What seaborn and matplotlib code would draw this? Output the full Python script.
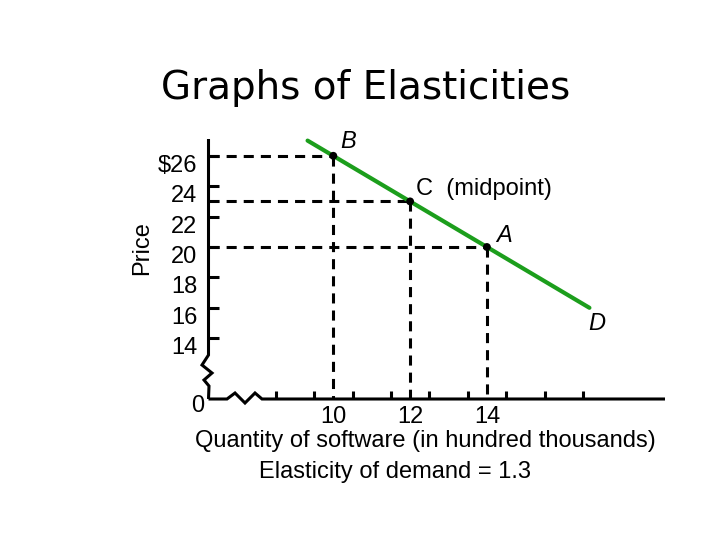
import matplotlib
matplotlib.use("Agg")
import matplotlib.pyplot as plt
import matplotlib.transforms as mtransforms
import seaborn as sns

# ---------------- data ----------------
demand_quantity = [9.33, 16.67]
demand_price = [27.0, 16.0]
point_names = ["B", "C", "A"]
point_quantity = [10, 12, 14]
point_price = [26, 23, 20]
price_ticks = [14, 16, 18, 20, 22, 24, 26]
price_tick_labels = ["14", "16", "18", "20", "22", "24", "$26"]
quantity_ticks = [10, 12, 14]
quantity_tick_labels = ["10", "12", "14"]
quantity_minor_ticks = [8.5, 9.5, 10.5, 11.5, 12.5, 13.5, 14.5, 15.5, 16.5]

title = "Graphs of Elasticities"
x_title = "Quantity of software (in hundred thousands)"
subtitle = "Elasticity of demand = 1.3"
y_title = "Price"

# ---------------- style ----------------
sns.set_style("white")
plt.rcParams["font.family"] = ["Liberation Sans", "DejaVu Sans"]
plt.rcParams["text.color"] = "black"
plt.rcParams["axes.labelcolor"] = "black"
plt.rcParams["xtick.color"] = "black"
plt.rcParams["ytick.color"] = "black"

FS = 17
W, H, DPI = 720, 540, 100
fig = plt.figure(figsize=(W / DPI, H / DPI), dpi=DPI)
fig.patch.set_facecolor("white")

XLIM = (6.75, 18.7)
YLIM = (10.0, 28.0)
PX_X, PX_Y = 38.4, 15.2
left_px, bottom_px = 208.5, 399
right_px = left_px + (XLIM[1] - XLIM[0]) * PX_X
top_px = bottom_px - (YLIM[1] - YLIM[0]) * PX_Y
ax = fig.add_axes([left_px / W, 1 - bottom_px / H,
                   (right_px - left_px) / W, (bottom_px - top_px) / H])
ax.set_xlim(XLIM)
ax.set_ylim(YLIM)
ax.set_facecolor("white")
for s in ax.spines.values():
    s.set_visible(False)


def px(xp, yp):
    """pixel (from top-left) -> data coords"""
    return ax.transData.inverted().transform((xp, H - yp))


LW = 2.2
GREEN = "#1c9e1c"

# dashed guide lines
for q, p in zip(point_quantity, point_price):
    ax.plot([XLIM[0], q], [p, p], color="black", lw=LW,
            linestyle=(0, (3.3, 2.3)), zorder=2)
    ax.plot([q, q], [p, YLIM[0]], color="black", lw=LW,
            linestyle=(0, (3.3, 2.3)), zorder=2)

# demand curve
sns.lineplot(x=demand_quantity, y=demand_price, color=GREEN, lw=3.0,
             ax=ax, zorder=3, sort=False)

# points
sns.scatterplot(x=point_quantity, y=point_price, color="black", s=32,
                edgecolor="none", ax=ax, zorder=5)

# axes with break marks
yaxis_px = [(208.5, 139), (208.5, 355), (202, 365), (212, 373), (204, 380),
            (209, 386), (208.5, 399)]
xaxis_px = [(208.5, 399), (227, 399), (235, 393), (245, 403), (255, 393),
            (262, 399), (665, 399)]
for pts in (yaxis_px, xaxis_px):
    d = [px(a, b) for a, b in pts]
    ax.plot([v[0] for v in d], [v[1] for v in d], color="black", lw=LW,
            clip_on=False, zorder=4, solid_joinstyle="miter",
            solid_capstyle="butt")

# ticks
ax.set_yticks(price_ticks)
ax.set_yticklabels(price_tick_labels, fontsize=FS)
ax.tick_params(axis="y", which="major", direction="in", length=7, width=LW,
               pad=8, left=True, color="black", labelcolor="black")
off = mtransforms.ScaledTranslation(0, -7.5 / DPI, fig.dpi_scale_trans)
for lab in ax.get_yticklabels():
    lab.set_transform(lab.get_transform() + off)

ax.set_xticks(quantity_ticks)
ax.set_xticklabels(quantity_tick_labels, fontsize=FS)
ax.set_xticks(quantity_minor_ticks, minor=True)
ax.tick_params(axis="x", which="major", length=0, pad=5, bottom=True,
               labelcolor="black")
ax.tick_params(axis="x", which="minor", direction="in", length=5.5, width=LW,
               bottom=True, color="black")

# point labels
label_offsets = {"B": (11, 10), "C": (4, 9), "A": (12, 8)}
label_styles = {"B": "italic", "C": "normal", "A": "italic"}
label_text = {"B": "B", "C": "C  (midpoint)", "A": "A"}
for name, q, p in zip(point_names, point_quantity, point_price):
    ha = "left" if name == "C" else "center"
    ax.annotate(label_text[name], (q, p), xytext=label_offsets[name],
                textcoords="offset points", ha=ha, va="center", fontsize=FS,
                style=label_styles[name], zorder=6, color="black")
ax.annotate("D", (demand_quantity[-1], demand_price[-1]), xytext=(5, -11.5),
            textcoords="offset points", ha="center", va="center",
            fontsize=FS, style="italic", color="black")

# "0" at origin
fig.text(198 / W, 1 - 406 / H, "0", fontsize=FS, ha="center", va="center",
         color="black")

# titles
fig.text(366 / W, 1 - 88 / H, title, fontsize=28, ha="center", va="center",
         family="DejaVu Sans", color="black")
fig.text(142 / W, 1 - 248 / H, y_title, fontsize=FS, rotation=90,
         ha="center", va="center", color="black")
fig.text(425 / W, 1 - 441 / H, x_title, fontsize=FS, ha="center",
         va="center", color="black")
fig.text(395 / W, 1 - 472 / H, subtitle, fontsize=FS, ha="center",
         va="center", color="black")

fig.savefig("out.png", dpi=DPI, facecolor="white")
